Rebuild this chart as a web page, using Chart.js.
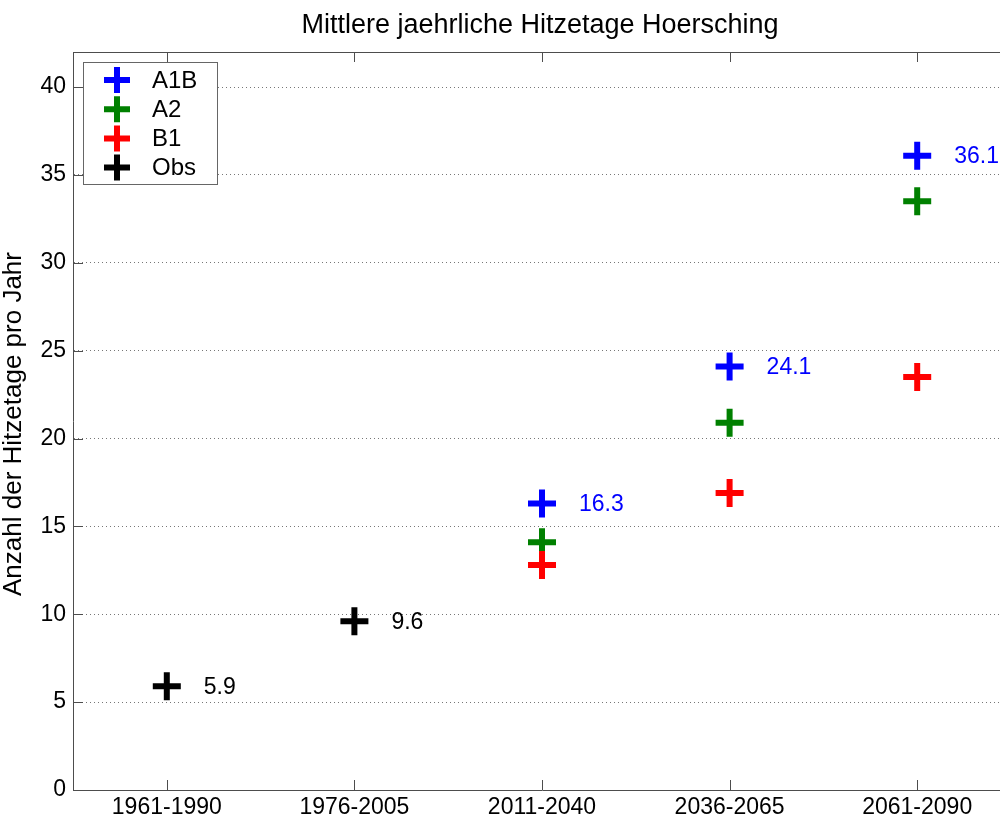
<!DOCTYPE html>
<html>
<head>
<meta charset="utf-8">
<script src="https://cdn.jsdelivr.net/npm/chart.js@4.4.0/dist/chart.umd.min.js"></script>
<style>
  html, body { margin: 0; padding: 0; background: #fff; overflow: hidden; }
  #wrap { position: absolute; left: 0; top: 0; width: 1031px; height: 821px; }
</style>
</head>
<body>
<div id="wrap"><canvas id="chart" width="1031" height="821"></canvas></div>
<script>
// Daten
const periods = ["1961-1990", "1976-2005", "2011-2040", "2036-2065", "2061-2090"];
const yTicks = [0, 5, 10, 15, 20, 25, 30, 35, 40];
const a1b = [null, null, 16.3, 24.1, 36.1];
const a2 = [null, null, 14.1, 20.9, 33.5];
const b1 = [null, null, 12.8, 16.9, 23.5];
const obs = [5.9, 9.6, null, null, null];

const FONT = "'Liberation Sans', Arial, Helvetica, sans-serif";
const AXIS = "#4d4d4d";

function toPoints(arr) {
  return arr.map((v, i) => (v == null ? null : { x: i + 1, y: v })).filter(Boolean);
}

function series(label, arr, color, order, showValue) {
  return {
    label,
    data: toPoints(arr),
    pointStyle: "cross",
    pointRadius: 14,
    pointHoverRadius: 14,
    pointBorderWidth: 6,
    pointHoverBorderWidth: 6,
    borderColor: color,
    backgroundColor: color,
    showLine: false,
    order,
    showValue
  };
}

// Rahmen, Ticks nach innen, Titel, Achsentitel
const framePlugin = {
  id: "frame",
  afterDraw(chart) {
    const { ctx, chartArea: a, scales } = chart;
    ctx.save();
    ctx.strokeStyle = AXIS;
    ctx.lineWidth = 1;
    ctx.beginPath();
    ctx.moveTo(a.left, a.top + 0.5);
    ctx.lineTo(a.right, a.top + 0.5);
    ctx.moveTo(a.right - 0.5, a.top);
    ctx.lineTo(a.right - 0.5, a.bottom);
    scales.x.ticks.forEach((t) => {
      const px = Math.round(scales.x.getPixelForValue(t.value)) + 0.5;
      ctx.moveTo(px, a.bottom);
      ctx.lineTo(px, a.bottom - 10);
      ctx.moveTo(px, a.top);
      ctx.lineTo(px, a.top + 10);
    });
    scales.y.ticks.forEach((t) => {
      const py = Math.round(scales.y.getPixelForValue(t.value)) + 0.5;
      ctx.moveTo(a.left, py);
      ctx.lineTo(a.left + 10, py);
      ctx.moveTo(a.right, py);
      ctx.lineTo(a.right - 10, py);
    });
    ctx.stroke();

    ctx.fillStyle = "#000";
    ctx.font = "27px " + FONT;
    ctx.textAlign = "center";
    ctx.textBaseline = "alphabetic";
    ctx.fillText("Mittlere jaehrliche Hitzetage Hoersching", (a.left + a.right) / 2 - 2, 33);

    ctx.font = "26px " + FONT;
    ctx.translate(21, (a.top + a.bottom) / 2 + 3);
    ctx.rotate(-Math.PI / 2);
    ctx.fillText("Anzahl der Hitzetage pro Jahr", 0, 0);
    ctx.restore();
  }
};

// Werte neben den Kreuzen
const valuePlugin = {
  id: "values",
  afterDatasetsDraw(chart) {
    const { ctx, scales } = chart;
    ctx.save();
    ctx.font = "23px " + FONT;
    ctx.textAlign = "left";
    ctx.textBaseline = "middle";
    chart.data.datasets.forEach((ds) => {
      if (!ds.showValue) return;
      ctx.fillStyle = ds.borderColor;
      ds.data.forEach((p) => {
        ctx.fillText(p.y.toFixed(1), scales.x.getPixelForValue(p.x) + 37, scales.y.getPixelForValue(p.y) + 1);
      });
    });
    ctx.restore();
  }
};

// Legende im Diagramm
const legendPlugin = {
  id: "boxLegend",
  afterDraw(chart) {
    const { ctx, chartArea: a } = chart;
    const x0 = a.left + 10, y0 = a.top + 10, w = 134, h = 122;
    ctx.save();
    ctx.fillStyle = "#fff";
    ctx.fillRect(x0, y0, w, h);
    ctx.strokeStyle = "#666";
    ctx.lineWidth = 1;
    ctx.strokeRect(x0 + 0.5, y0 + 0.5, w, h);
    ctx.font = "24px " + FONT;
    ctx.textAlign = "left";
    ctx.textBaseline = "middle";
    chart.data.datasets.forEach((ds, i) => {
      const cy = y0 + 18 + i * 29.2;
      const cx = x0 + 34;
      ctx.strokeStyle = ds.borderColor;
      ctx.lineWidth = 6;
      ctx.beginPath();
      ctx.moveTo(cx - 13, cy);
      ctx.lineTo(cx + 13, cy);
      ctx.moveTo(cx, cy - 13);
      ctx.lineTo(cx, cy + 13);
      ctx.stroke();
      ctx.fillStyle = "#000";
      ctx.fillText(ds.label, x0 + 69, cy + 1);
    });
    ctx.restore();
  }
};

new Chart(document.getElementById("chart"), {
  type: "scatter",
  data: {
    datasets: [
      series("A1B", a1b, "#0000ff", 3, true),
      series("A2", a2, "#008000", 2, false),
      series("B1", b1, "#ff0000", 1, false),
      series("Obs", obs, "#000000", 0, true)
    ]
  },
  options: {
    responsive: false,
    animation: false,
    devicePixelRatio: 1,
    layout: { padding: { top: 52, right: 2, left: 0, bottom: 0 } },
    plugins: {
      legend: { display: false },
      title: { display: false },
      tooltip: { enabled: false }
    },
    scales: {
      x: {
        type: "linear",
        min: 0.5,
        max: 5.5,
        afterBuildTicks: (s) => { s.ticks = periods.map((p, i) => ({ value: i + 1 })); },
        afterFit: (s) => { s.height = 31; s.paddingLeft = 0; s.paddingRight = 0; },
        ticks: {
          callback: (v) => periods[v - 1],
          color: "#000",
          font: { family: FONT, size: 23 },
          padding: 4,
          maxRotation: 0,
          autoSkip: false
        },
        grid: { display: false, drawTicks: false },
        border: { display: true, color: AXIS, width: 1 }
      },
      y: {
        min: 0,
        max: 42,
        afterBuildTicks: (s) => { s.ticks = yTicks.map((v) => ({ value: v })); },
        afterFit: (s) => { s.width = 73; s.paddingTop = 0; s.paddingBottom = 0; },
        ticks: {
          color: "#000",
          font: { family: FONT, size: 23 },
          padding: 7
        },
        grid: {
          drawTicks: false,
          color: (c) => (c.tick && c.tick.value === 0 ? "rgba(0,0,0,0)" : "#777"),
          lineWidth: 1
        },
        border: { display: true, color: AXIS, width: 1, dash: [1, 3] }
      }
    }
  },
  plugins: [framePlugin, valuePlugin, legendPlugin]
});
</script>
</body>
</html>
